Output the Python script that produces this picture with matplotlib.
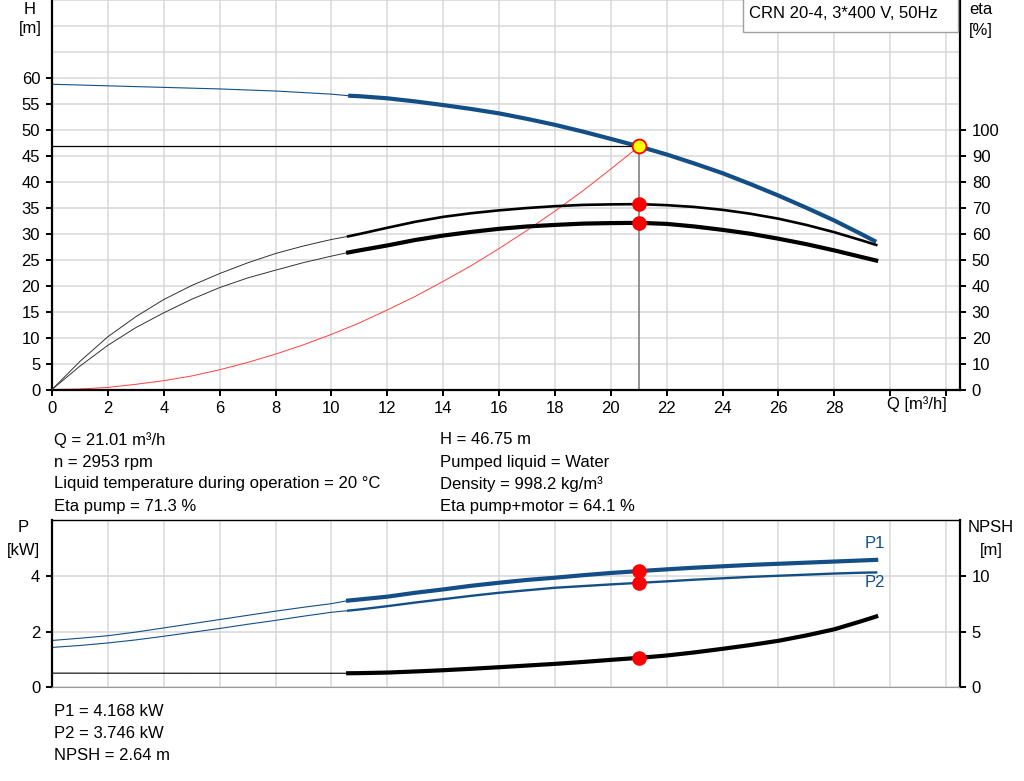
import matplotlib.pyplot as plt
from matplotlib.patches import Rectangle

plt.rcParams['font.family'] = ['Liberation Sans', 'DejaVu Sans']
plt.rcParams['font.size'] = 12

# --- dati ---
# punto di lavoro
q_op = 21.01
h_op = 46.75
eta_pump_op = 71.3
eta_tot_op = 64.1
p1_op = 4.168
p2_op = 3.746
npsh_op = 2.64

# portate: tratto sottile (fuori campo) e tratto spesso (campo di lavoro)
q_thin = [0, 1, 2, 3, 4, 5, 6, 7, 8, 9, 10, 10.6]
q_main = [10.6, 11, 12, 13, 14, 15, 16, 17, 18, 19, 20, 21.01,
          22, 23, 24, 25, 26, 27, 28, 29, 29.5]

# curva H
h_thin = [58.7, 58.55, 58.4, 58.25, 58.1, 57.95, 57.8, 57.6, 57.4, 57.1, 56.8, 56.5]
h_main = [56.5, 56.4, 56.0, 55.4, 54.7, 53.95, 53.1, 52.05, 50.9, 49.6, 48.2, 46.75,
          45.2, 43.45, 41.6, 39.5, 37.3, 34.95, 32.5, 29.8, 28.4]

# rendimenti
eta_pump_thin = [0, 10.8, 20.3, 28.0, 34.6, 40.0, 44.6, 48.7, 52.3, 55.2, 57.7, 58.9]
eta_tot_thin = [0, 9.0, 17.0, 23.8, 29.5, 34.7, 39.2, 42.9, 45.9, 48.8, 51.3, 52.7]
eta_pump_main = [58.9, 59.8, 62.2, 64.5, 66.4, 67.8, 68.9, 69.8, 70.5, 71.0, 71.2, 71.3,
                 70.9, 70.2, 69.1, 67.6, 65.7, 63.3, 60.5, 57.3, 55.6]
eta_tot_main = [52.7, 53.5, 55.4, 57.5, 59.2, 60.6, 61.8, 62.7, 63.3, 63.8, 64.0, 64.1,
                63.7, 62.7, 61.4, 59.9, 58.0, 55.9, 53.5, 50.9, 49.6]

# curva impianto
q_sys = [0, 1, 2, 3, 4, 5, 6, 7, 8, 9, 10, 11, 12, 13, 14, 15, 16, 17, 18, 19, 20, 21.01]
h_sys = [0, 0.1, 0.4, 1.0, 1.7, 2.6, 3.8, 5.2, 6.8, 8.6, 10.6, 12.8, 15.3, 17.9,
         20.8, 23.8, 27.1, 30.6, 34.3, 38.2, 42.4, 46.75]

# potenze e NPSH
p1_thin = [1.68, 1.76, 1.85, 1.98, 2.13, 2.28, 2.43, 2.58, 2.73, 2.87, 3.00, 3.11]
p2_thin = [1.43, 1.50, 1.59, 1.70, 1.83, 1.97, 2.11, 2.26, 2.40, 2.55, 2.69, 2.75]
p1_main = [3.11, 3.15, 3.25, 3.39, 3.51, 3.64, 3.75, 3.85, 3.93, 4.02, 4.10, 4.168,
           4.23, 4.29, 4.34, 4.39, 4.43, 4.47, 4.51, 4.55, 4.57]
p2_main = [2.75, 2.79, 2.91, 3.04, 3.16, 3.28, 3.39, 3.48, 3.57, 3.63, 3.69, 3.746,
           3.80, 3.86, 3.91, 3.96, 4.00, 4.04, 4.08, 4.11, 4.12]
q_npsh_thin = [0, 5, 10.6]
npsh_thin = [1.27, 1.26, 1.26]
npsh_main = [1.26, 1.27, 1.32, 1.42, 1.53, 1.66, 1.80, 1.95, 2.10, 2.27, 2.46, 2.64,
             2.85, 3.13, 3.45, 3.79, 4.17, 4.65, 5.2, 5.95, 6.35]

x_ticks = list(range(0, 33, 2))
x_labels = [str(v) if v <= 28 else '' for v in x_ticks]

blu = '#134f86'
griglia = '#d9d9d9'

W, H = 1024, 781
fig = plt.figure(figsize=(W / 100, H / 100), dpi=100)

def box(left, top, right, bottom):
    return [left / W, 1 - bottom / H, (right - left) / W, (bottom - top) / H]

tick_kw = dict(direction='out', length=4.5, width=1.4, pad=4)

# ---------------- grafico superiore H / eta ----------------
ax1 = fig.add_axes(box(52, -0.5, 960, 389.5))
ax1.set_xlim(0, 32.5)
ax1.set_ylim(0, 75)
ax1.set_xticks(x_ticks)
ax1.set_xticklabels(x_labels)
ax1.set_yticks(range(0, 61, 5))
ax1.set_yticks(range(0, 76, 5), minor=True)
ax1.grid(True, which='both', color=griglia, lw=1.1)
ax1.tick_params(which='minor', length=0)
ax1.tick_params(**tick_kw)
ax1.set_axisbelow(True)
for lato in ['left', 'right', 'bottom']:
    ax1.spines[lato].set_linewidth(1.6)
ax1.spines['top'].set_visible(False)

ax1.plot(q_thin, h_thin, color=blu, lw=0.8)
ax1.plot(q_main, h_main, color=blu, lw=3.0, solid_capstyle='butt')
ax1.plot(q_sys, h_sys, color='#ff4040', lw=0.7)
ax1.plot([0, q_op], [h_op, h_op], color='black', lw=0.9)
ax1.plot([q_op, q_op], [0, h_op], color='#808080', lw=1.2)

ax1e = ax1.twinx()
ax1e.set_ylim(0, 150)
ax1e.set_yticks(range(0, 101, 10))
ax1e.tick_params(**tick_kw)
for lato in ['left', 'right', 'bottom', 'top']:
    ax1e.spines[lato].set_visible(False)
ax1e.plot(q_thin, eta_pump_thin, color='#333333', lw=0.7)
ax1e.plot(q_thin, eta_tot_thin, color='#333333', lw=0.7)
ax1e.plot(q_main, eta_pump_main, color='black', lw=1.9)
ax1e.plot(q_main, eta_tot_main, color='black', lw=3.0)
ax1e.plot([q_op, q_op], [eta_pump_op, eta_tot_op], 'o', color='red', ms=9.5, zorder=5)
ax1e.plot([q_op], [h_op * 2], 'o', mfc='yellow', mec='red', mew=1.3, ms=10, zorder=6)

ax1.text(29.9, -0.018, 'Q [m³/h]', transform=ax1.get_xaxis_transform(),
         ha='left', va='top')

# etichette assi
fig.text(30 / W, 1 - 9 / H, 'H', ha='center', va='center')
fig.text(30 / W, 1 - 29 / H, '[m]', ha='center', va='center')
fig.text(981 / W, 1 - 10 / H, 'eta', ha='center', va='center')
fig.text(981 / W, 1 - 30 / H, '[%]', ha='center', va='center')

# riquadro pompa
fig.add_artist(Rectangle((743 / W, 1 - 32 / H), 215 / W, 34 / H, transform=fig.transFigure,
                         facecolor='white', edgecolor='#a0a0a0', lw=1))
fig.text(749 / W, 1 - 14 / H, 'CRN 20-4, 3*400 V, 50Hz', ha='left', va='center')

# testo punto di lavoro
righe_sx = ['Q = 21.01 m³/h', 'n = 2953 rpm',
            'Liquid temperature during operation = 20 °C', 'Eta pump = 71.3 %']
righe_dx = ['H = 46.75 m', 'Pumped liquid = Water',
            'Density = 998.2 kg/m³', 'Eta pump+motor = 64.1 %']
for i, (a, b) in enumerate(zip(righe_sx, righe_dx)):
    y = 1 - (440 + 22 * i) / H
    fig.text(54 / W, y, a, ha='left', va='center')
    fig.text(440 / W, y, b, ha='left', va='center')

# ---------------- grafico inferiore P / NPSH ----------------
ax2 = fig.add_axes(box(52, 520, 960, 687.3))
ax2.set_xlim(0, 32.5)
ax2.set_ylim(0, 6)
ax2.set_xticks(x_ticks)
ax2.set_xticklabels([])
ax2.tick_params(axis='x', length=0)
ax2.set_yticks([0, 2, 4])
ax2.tick_params(axis='y', **tick_kw)
ax2.grid(True, color=griglia, lw=1.1)
ax2.set_axisbelow(True)
ax2.spines['left'].set_linewidth(1.6)
ax2.spines['right'].set_linewidth(1.6)
ax2.spines['top'].set_linewidth(1.0)
ax2.spines['bottom'].set_color('#999999')

ax2.plot(q_thin, p1_thin, color=blu, lw=0.8)
ax2.plot(q_thin, p2_thin, color=blu, lw=0.8)
ax2.plot(q_main, p1_main, color=blu, lw=3.0)
ax2.plot(q_main, p2_main, color=blu, lw=1.7)
ax2.plot([q_op, q_op], [p1_op, p2_op], 'o', color='red', ms=9.5, zorder=5)
ax2.text(29.46, 5.16, 'P1', color=blu, ha='center', va='center')
ax2.text(29.46, 3.76, 'P2', color=blu, ha='center', va='center')

ax2n = ax2.twinx()
ax2n.set_ylim(0, 15)
ax2n.set_yticks([0, 5, 10])
ax2n.tick_params(**tick_kw)
for lato in ['left', 'right', 'bottom', 'top']:
    ax2n.spines[lato].set_visible(False)
ax2n.plot(q_npsh_thin, npsh_thin, color='black', lw=0.8)
ax2n.plot(q_main, npsh_main, color='black', lw=3.0)
ax2n.plot([q_op], [npsh_op], 'o', color='red', ms=9.5, zorder=5)

fig.text(23 / W, 1 - 528 / H, 'P', ha='center', va='center')
fig.text(23 / W, 1 - 550 / H, '[kW]', ha='center', va='center')
fig.text(991 / W, 1 - 528 / H, 'NPSH', ha='center', va='center')
fig.text(991 / W, 1 - 550 / H, '[m]', ha='center', va='center')

righe_basso = ['P1 = 4.168 kW', 'P2 = 3.746 kW', 'NPSH = 2.64 m']
for i, r in enumerate(righe_basso):
    fig.text(54 / W, 1 - (711 + 22 * i) / H, r, ha='left', va='center')

fig.savefig('out.png', dpi=100)
